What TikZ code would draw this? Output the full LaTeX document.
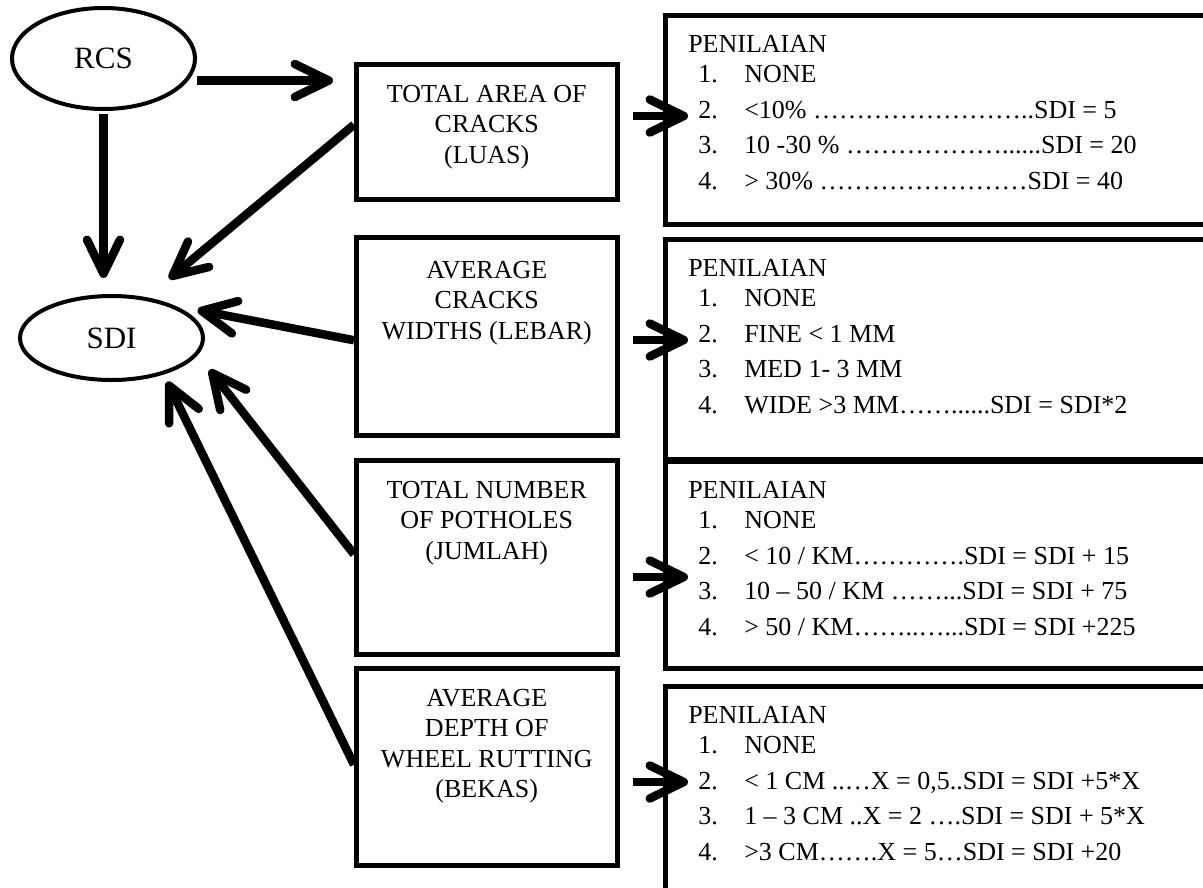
\documentclass[tikz,border=0pt]{standalone}
\usepackage{fontspec}
\setmainfont{Liberation Serif}
\usepackage{tikz}
\usetikzlibrary{arrows.meta}
\usetikzlibrary{shapes.geometric}
\tikzset{
  kotak/.style={draw, line width=4.5pt, inner sep=0pt, anchor=north west, font=\fontsize{26pt}{30.5pt}\selectfont},
  panah/.style={-{Straight Barb[length=34pt, width=33pt, round]}, line width=8.5pt},
}
% isi kotak tengah: tinggi, baris pertama, teks
\newcommand{\isitengah}[3]{\parbox[c][#1][t]{261pt}{\centering\rule{0pt}{#2}#3}}
% isi kotak penilaian
\newcommand{\isinilai}[2]{\parbox[c][#1][t]{560pt}{\leftskip=23pt\rule{0pt}{37pt}PENILAIAN\\#2}}
\newcommand{\butir}[2]{\hspace*{10pt}\makebox[46pt][l]{#1}#2}

\begin{document}
\begin{tikzpicture}[x=1pt, y=-1pt,
  elips/.style={draw, ellipse, line width=4pt, inner sep=0pt, minimum width=183pt, font=\fontsize{31pt}{36pt}\selectfont}]
  \useasboundingbox (0,0) rectangle (1203,887);
  \node[elips, minimum height=101pt] (rcs) at (103.5,58.5) {RCS};
  \node[elips, minimum height=84pt] (sdi) at (111.5,338) {SDI};
  \node[kotak] (luas) at (354,62) {\isitengah{135pt}{38pt}{TOTAL AREA OF\\CRACKS\\(LUAS)}};
  \node[kotak] (lebar) at (354,235) {\isitengah{198pt}{41pt}{AVERAGE\\CRACKS\\WIDTHS (LEBAR)}};
  \node[kotak] (jumlah) at (354,458) {\isitengah{194pt}{38pt}{TOTAL NUMBER\\OF POTHOLES\\(JUMLAH)}};
  \node[kotak] (bekas) at (354,666) {\isitengah{197pt}{38pt}{AVERAGE\\DEPTH OF\\WHEEL RUTTING\\(BEKAS)}};
  \node[kotak] (nilai1) at (663,13) {\isinilai{209pt}{\butir{1.}{NONE}\\[5pt]
    \butir{2.}{<10\% ……………………..SDI = 5}\\[5pt]
    \butir{3.}{10 -30 \% ………………......SDI = 20}\\[5pt]
    \butir{4.}{> 30\% ……………………SDI = 40}}};
  \node[kotak] (nilai2) at (663,237) {\isinilai{220pt}{\butir{1.}{NONE}\\[5pt]
    \butir{2.}{FINE < 1 MM}\\[5pt]
    \butir{3.}{MED 1- 3 MM}\\[5pt]
    \butir{4.}{WIDE >3 MM……......SDI = SDI*2}}};
  \node[kotak] (nilai3) at (663,459) {\isinilai{207pt}{\butir{1.}{NONE}\\[5pt]
    \butir{2.}{< 10 / KM………….SDI = SDI + 15}\\[5pt]
    \butir{3.}{10 – 50 / KM ……...SDI = SDI + 75}\\[5pt]
    \butir{4.}{> 50 / KM……..…...SDI = SDI +225}}};
  \node[kotak] (nilai4) at (663,684) {\isinilai{230pt}{\butir{1.}{NONE}\\[5pt]
    \butir{2.}{< 1 CM ..…X = 0,5..SDI = SDI +5*X}\\[5pt]
    \butir{3.}{1 – 3 CM ..X = 2 ….SDI = SDI + 5*X}\\[5pt]
    \butir{4.}{>3 CM…….X = 5…SDI = SDI +20}}};
  \draw[panah, shorten >=21pt] ([yshift=-22pt]rcs.east) -- ([yshift=-22pt]rcs.east -| luas.west);
  \draw[panah, shorten <=3pt, shorten >=16pt] (rcs.south) -- (rcs.south |- sdi.north);
  \foreach \a/\b/\s/\d in {luas/49/29/7, lebar/27/23/-4, jumlah/-11/19/3, bekas/-35/8/2}
    \draw[panah, shorten >=\s pt] ([yshift=\d pt]\a.west) -- (sdi.\b);
  \foreach \i/\y in {1/116, 2/340, 3/577, 4/782} {
    \coordinate (p\i) at (633,\y);
    \draw[panah, shorten >=-25pt] (p\i) -- (p\i -| nilai\i.west);
  }
\end{tikzpicture}
\end{document}
